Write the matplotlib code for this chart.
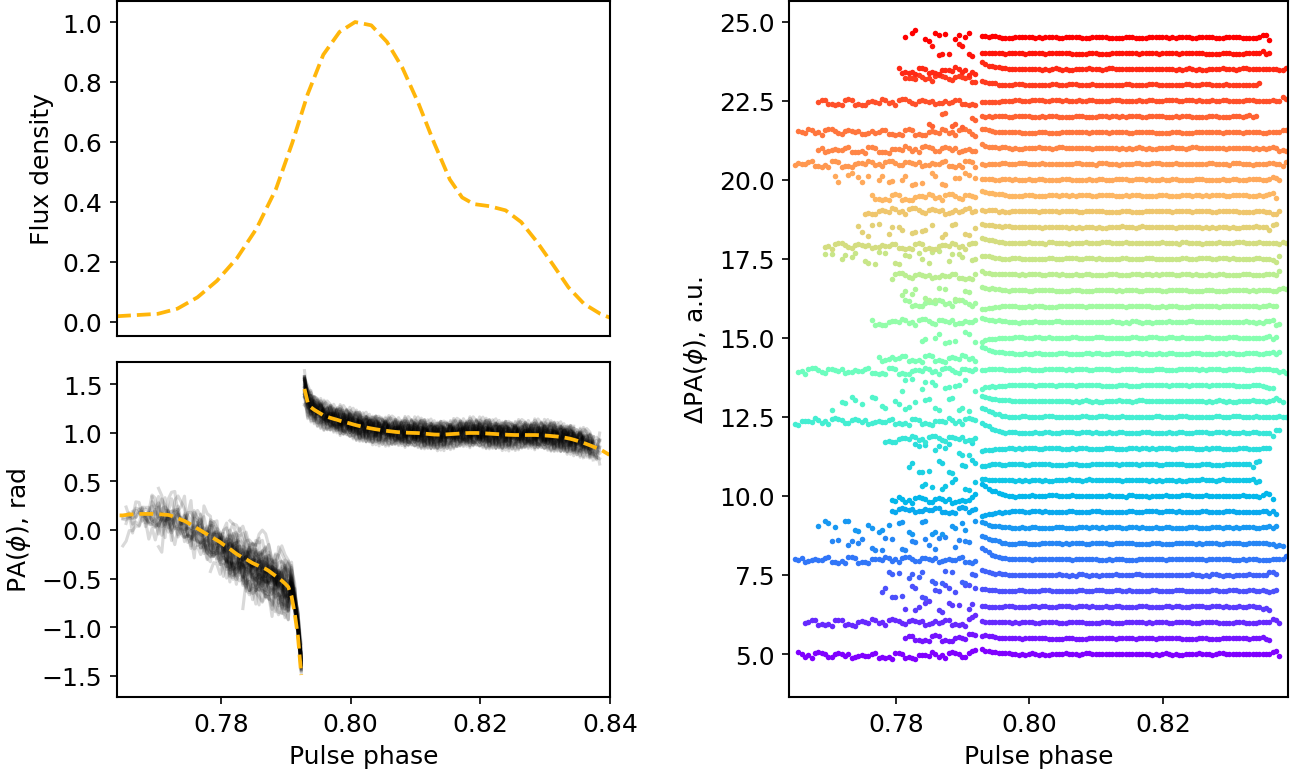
import numpy as np
import matplotlib.pyplot as plt

plt.rcParams['font.size'] = 12
plt.rcParams['axes.linewidth'] = 1.0

# --- pulse profile ---
flux_phase = [0.7640, 0.7703, 0.7733, 0.7764, 0.7794, 0.7825, 0.7855, 0.7885, 0.7910, 0.7934,
              0.7958, 0.7983, 0.8007, 0.8032, 0.8056, 0.8080, 0.8105, 0.8129, 0.8153, 0.8172,
              0.8190, 0.8214, 0.8239, 0.8263, 0.8287, 0.8312, 0.8336, 0.8360, 0.8385, 0.8400]
flux = [0.019, 0.027, 0.044, 0.082, 0.137, 0.213, 0.311, 0.443, 0.596, 0.760,
        0.891, 0.967, 1.000, 0.989, 0.934, 0.847, 0.727, 0.596, 0.475, 0.415,
        0.393, 0.386, 0.372, 0.333, 0.268, 0.191, 0.115, 0.060, 0.027, 0.014]

# --- phase bins of the PA data ---
phase0 = 0.7644
dphase = 0.0005

# mean PA curve (rad), before and after the jump
pa_low = [0.150, 0.150, 0.155, 0.160, 0.160, 0.163, 0.165, 0.165, 0.165, 0.165,
          0.165, 0.163, 0.162, 0.160, 0.157, 0.155, 0.145, 0.130, 0.120, 0.105,
          0.093, 0.075, 0.055, 0.035, 0.015, -0.005, -0.025, -0.045, -0.065, -0.085,
          -0.105, -0.125, -0.150, -0.170, -0.195, -0.220, -0.245, -0.265, -0.285, -0.300,
          -0.320, -0.340, -0.355, -0.370, -0.385, -0.400, -0.420, -0.445, -0.470, -0.495,
          -0.520, -0.550, -0.585, -0.680, -0.860, -1.100, -1.490]
pa_high = [1.450, 1.310, 1.260, 1.235, 1.215, 1.195, 1.175, 1.163, 1.152, 1.142,
           1.133, 1.122, 1.113, 1.104, 1.095, 1.085, 1.076, 1.068, 1.060, 1.054,
           1.047, 1.041, 1.035, 1.030, 1.025, 1.020, 1.016, 1.012, 1.008, 1.005,
           1.003, 1.001, 0.999, 0.998, 0.997, 0.996, 0.993, 0.990, 0.987, 0.984,
           0.981, 0.980, 0.980, 0.981, 0.983, 0.985, 0.987, 0.989, 0.992, 0.994,
           0.996, 0.997, 0.997, 0.997, 0.996, 0.994, 0.992, 0.990, 0.988, 0.986,
           0.984, 0.982, 0.980, 0.978, 0.977, 0.976, 0.976, 0.976, 0.976, 0.976,
           0.976, 0.976, 0.975, 0.973, 0.971, 0.969, 0.966, 0.963, 0.960, 0.955,
           0.950, 0.944, 0.937, 0.928, 0.918, 0.907, 0.895, 0.883, 0.870, 0.857,
           0.843, 0.830, 0.812, 0.792, 0.772]

# --- single-pulse rows (one per offset) ---
row_offset = [5.0, 5.5, 6.0, 6.5, 7.0, 7.5, 8.0, 8.5, 9.0, 9.5,
              10.0, 10.5, 11.0, 11.5, 12.0, 12.5, 13.0, 13.5, 14.0, 14.5,
              15.0, 15.5, 16.0, 16.5, 17.0, 17.5, 18.0, 18.5, 19.0, 19.5,
              20.0, 20.5, 21.0, 21.5, 22.0, 22.5, 23.0, 23.5, 24.0, 24.5]
row_start = [0.765, 0.781, 0.766, 0.781, 0.777, 0.778, 0.7645, 0.770, 0.768, 0.779,
             0.779, 0.783, 0.781, 0.782, 0.778, 0.7645, 0.770, 0.780, 0.765, 0.777,
             0.783, 0.776, 0.781, 0.780, 0.779, 0.769, 0.769, 0.774, 0.775, 0.776,
             0.770, 0.7645, 0.768, 0.765, 0.784, 0.768, 0.781, 0.780, 0.785, 0.781]
row_end = [0.8375, 0.836, 0.8375, 0.836, 0.837, 0.837, 0.8385, 0.838, 0.837, 0.837,
           0.8365, 0.8345, 0.8345, 0.836, 0.8375, 0.8385, 0.838, 0.8365, 0.8385, 0.8375,
           0.837, 0.8375, 0.837, 0.8385, 0.8375, 0.8375, 0.8385, 0.837, 0.8375, 0.837,
           0.8375, 0.8385, 0.8385, 0.8385, 0.834, 0.8385, 0.8345, 0.8385, 0.836, 0.836]
row_level = [-0.05, 0.0, 0.0, -0.05, -0.05, -0.05, -0.02, 0.0, 0.0, 0.05,
             -0.15, -0.2, -0.1, 0.0, -0.2, -0.15, -0.1, 0.0, -0.05, -0.15,
             0.0, 0.0, 0.1, -0.1, -0.05, 0.05, -0.1, -0.1, 0.0, -0.05,
             0.0, 0.0, -0.05, 0.0, -0.1, -0.05, 0.2, -0.05, 0.1, 0.0]
row_hook = [0.2, 0.2, 0.25, 0.15, 0.3, 0.0, 0.0, 0.3, 0.1, 0.2,
            0.2, 0.0, 0.0, 0.0, 0.0, 0.0, 0.0, 0.0, 0.0, 0.0,
            0.0, 0.0, -0.1, 0.0, 0.0, 0.0, 0.0, 0.1, 0.1, 0.0,
            0.05, 0.0, -0.05, -0.1, 0.0, 0.0, -0.1, -0.3, 0.0, 0.0]
row_kick = [0.15, 0.1, 0.05, 0.0, 0.05, 0.15, 0.35, 0.25, 0.15, -0.15,
            0.4, 0.05, -0.05, -0.05, 0.3, 0.3, 0.15, -0.1, 0.0, 0.2,
            -0.1, 0.15, -0.1, 0.1, 0.1, 0.1, 0.15, 0.1, 0.05, 0.15,
            0.0, 0.0, 0.1, 0.1, 0.0, -0.05, 0.1, 0.2, 0.0, 0.05]
row_sparse = [0, 0, 0, 1, 1, 1, 0, 1, 1, 0,
              0, 1, 1, 1, 0, 0, 1, 1, 0, 0,
              1, 0, 0, 1, 0, 1, 0, 1, 0, 0,
              1, 0, 0, 0, 1, 0, 0, 0, 1, 1]

# jitter read from the dot rows (tenths of the local scatter)
wiggle = [2, -6, 7, -1, -9, 4, 10, -5, 0, 6, -10, 5, -3, 8, -7, 1, 9, -4, -8, 6,
          -2, 7, -9, 3, 10, -6, -1, 9, -8, 0, 4, -10, 6, -3, 1, 8, -5, 3, -7, 5]
keep = [1, 0, 1, 1, 0, 1, 0, 0, 1, 1, 0, 1, 1, 0, 0, 1]
hook_shape = [0.15, 0.35, 0.65, 1.0]
kick_shape = [1.0, 0.8, 0.6, 0.45, 0.32, 0.22, 0.14, 0.08, 0.04]

n_low = len(pa_low)
n = n_low + len(pa_high)
phase = phase0 + dphase * np.arange(n)
pa_mean = np.array(pa_low + pa_high)
n_rows = len(row_offset)

fig = plt.figure(figsize=(8.64, 5.1733), dpi=150)
ax1 = fig.add_axes([0.0903, 0.5657, 0.3804, 0.4317])
ax2 = fig.add_axes([0.0903, 0.1005, 0.3804, 0.4317])
ax3 = fig.add_axes([0.6088, 0.1005, 0.3850, 0.8969])

for i in range(n_rows):
    dots = np.full(n, np.nan)
    line = np.full(n, np.nan)
    noise = 0.22 if row_sparse[i] else 0.1
    for k in range(n):
        p = phase[k]
        if p < row_start[i] - 1e-9 or p > row_end[i] + 1e-9:
            continue
        w = wiggle[(3 * k + 7 * i) % len(wiggle)] / 10
        w2 = wiggle[(5 * k + 11 * i) % len(wiggle)] / 10
        if k < n_low:
            r = row_level[i] + noise * w
            j = k - (n_low - len(hook_shape))
            if j >= 0:
                r += row_hook[i] * hook_shape[j]
                # near the jump the traces lag behind the mean curve
                line[k] = pa_mean[k] + abs(r) + 0.05 * abs(w2)
            else:
                line[k] = pa_mean[k] + 1.1 * r + 0.06 * w2
            if k == n_low - 1:
                continue
            if row_sparse[i] and not keep[(k + i) % len(keep)]:
                continue
            dots[k] = r
        else:
            j = k - n_low
            r = 0.02 * w
            if j < len(kick_shape):
                r += row_kick[i] * kick_shape[j]
            line[k] = pa_mean[k] + 0.3 * r + 0.09 * w + 0.07 * w2
            if row_end[i] - p < 0.0012:
                r += 0.08 * w
            dots[k] = r
    c = plt.cm.rainbow(i / (n_rows - 1))
    ok = ~np.isnan(dots)
    ax3.scatter(phase[ok], row_offset[i] + dots[ok], s=7, color=c, linewidths=0)
    ax2.plot(np.insert(phase, n_low, np.nan), np.insert(line, n_low, np.nan),
             color='k', alpha=0.15, lw=1.5)

ax1.plot(flux_phase, flux, '--', color='#ffb60a', lw=1.8)
ax1.set_xlim(0.764, 0.840)
ax1.set_ylim(-0.047, 1.07)
ax1.set_xticks([])
ax1.set_yticks([0.0, 0.2, 0.4, 0.6, 0.8, 1.0])
ax1.set_ylabel('Flux density')

ax2.plot(phase[:n_low], pa_low, '--', color='#ffb60a', lw=1.8)
ax2.plot(phase[n_low:], pa_high, '--', color='#ffb60a', lw=1.8)
ax2.set_xlim(0.764, 0.840)
ax2.set_ylim(-1.716, 1.726)
ax2.set_xticks([0.78, 0.80, 0.82, 0.84])
ax2.set_yticks([-1.5, -1.0, -0.5, 0.0, 0.5, 1.0, 1.5])
ax2.set_xlabel('Pulse phase')
ax2.set_ylabel('PA($\\phi$), rad')

ax3.set_xlim(0.764, 0.8387)
ax3.set_ylim(3.64, 25.65)
ax3.set_xticks([0.78, 0.80, 0.82])
ax3.set_yticks([5.0, 7.5, 10.0, 12.5, 15.0, 17.5, 20.0, 22.5, 25.0])
ax3.set_xlabel('Pulse phase')
ax3.set_ylabel('$\\Delta$PA($\\phi$), a.u.')

fig.savefig('out.png', dpi=150)
